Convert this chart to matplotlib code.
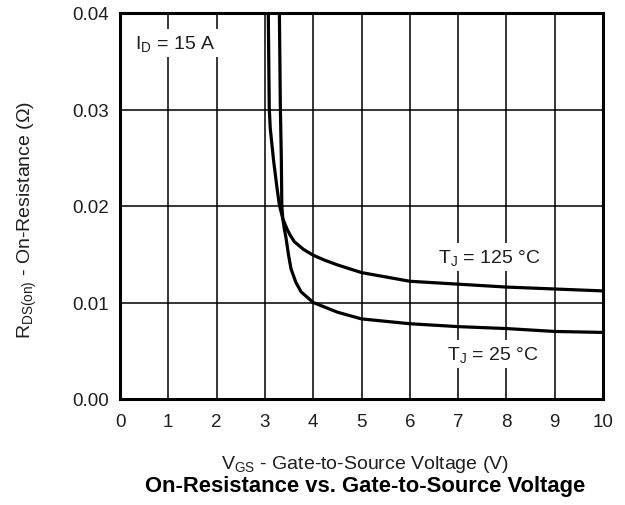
import matplotlib
matplotlib.use("Agg")
import matplotlib.pyplot as plt

plt.rcParams['font.family'] = ['Liberation Sans', 'DejaVu Sans']
plt.rcParams['mathtext.fontset'] = 'custom'
plt.rcParams['mathtext.rm'] = 'Liberation Sans'
plt.rcParams['mathtext.it'] = 'Liberation Sans:italic'
plt.rcParams['mathtext.bf'] = 'Liberation Sans:bold'

# Data
vgs_125 = [3.07, 3.09, 3.11, 3.18, 3.25, 3.30, 3.37, 3.45, 3.52, 3.61, 3.80, 4.00, 4.23, 4.50, 5.0, 6.0, 7.0, 8.0, 9.0, 10.0]
rds_125 = [0.0400, 0.0302, 0.0281, 0.0247, 0.0219, 0.0201, 0.0187, 0.0177, 0.0170, 0.0163, 0.0155, 0.0149, 0.0144,
           0.0139, 0.0131, 0.0122, 0.0119, 0.0116, 0.0114, 0.0112]

vgs_25 = [3.30, 3.32, 3.34, 3.35, 3.37, 3.40, 3.44, 3.49, 3.54, 3.64, 3.75, 4.0, 4.5, 5.0, 6.0, 7.0, 8.0, 9.0, 10.0]
rds_25 = [0.0400, 0.0302, 0.0250, 0.0201, 0.0187, 0.0177, 0.0166, 0.0149, 0.0135, 0.0121, 0.0111, 0.0100, 0.0090,
          0.0083, 0.0078, 0.0075, 0.0073, 0.0070, 0.0069]

x_ticks = [0, 1, 2, 3, 4, 5, 6, 7, 8, 9, 10]
y_ticks = [0.00, 0.01, 0.02, 0.03, 0.04]
y_tick_labels = ["0.00", "0.01", "0.02", "0.03", "0.04"]

txt = '#1e1e1e'

fig = plt.figure(figsize=(6.25, 5.06), dpi=100)
ax = fig.add_axes([120 / 625, 1 - 400 / 506, (603 - 120) / 625, (400 - 14) / 506])

ax.plot(vgs_125, rds_125, color='black', lw=2.3, solid_joinstyle='round', solid_capstyle='butt', zorder=3)
ax.plot(vgs_25, rds_25, color='black', lw=2.3, solid_joinstyle='round', solid_capstyle='butt', zorder=3)

ax.set_xlim(0, 10)
ax.set_ylim(0, 0.04)
ax.set_xticks(x_ticks)
ax.set_yticks(y_ticks)
ax.set_yticklabels(y_tick_labels)
ax.tick_params(axis='both', length=0, labelsize=13.5, labelcolor=txt)
ax.tick_params(axis='x', pad=10)
ax.tick_params(axis='y', pad=8)
ax.grid(True, color='black', lw=1.1)
ax.set_axisbelow(True)
for s in ax.spines.values():
    s.set_linewidth(2.2)
    s.set_color('black')
    s.set_zorder(4)

box = dict(facecolor='white', edgecolor='none', pad=3)
ax.text(0.31, 0.0369, r'I$_\mathregular{D}$ = 15 A', fontsize=14, color=txt, va='center', ha='left', bbox=box, zorder=2.5)
ax.text(6.58, 0.01472, r'T$_\mathregular{J}$ = 125 °C', fontsize=14, color=txt, va='center', ha='left', bbox=box, zorder=2.5)
ax.text(6.77, 0.00466, r'T$_\mathregular{J}$ = 25 °C', fontsize=14, color=txt, va='center', ha='left', bbox=box, zorder=2.5)

fig.text(365 / 625, 1 - 469 / 506, r'V$_\mathregular{GS}$ - Gate-to-Source Voltage (V)', fontsize=14, color=txt,
         ha='center', va='baseline')
fig.text(365 / 625, 1 - 492 / 506, 'On-Resistance vs. Gate-to-Source Voltage', fontsize=15.8, fontweight='bold',
         color='black', ha='center', va='baseline')
fig.text(27 / 625, 1 - 220 / 506, r'R$_\mathregular{DS(on)}$ - On-Resistance (Ω)', fontsize=14, color=txt,
         rotation=90, ha='center', va='center')

fig.savefig('out.png', dpi=100)
